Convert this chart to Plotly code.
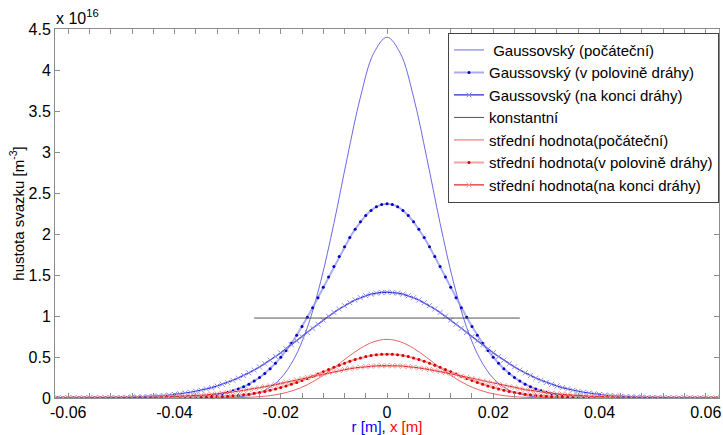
import plotly.graph_objects as go

# sample positions [m]
r_fine = [-0.062, -0.061, -0.060, -0.059, -0.058, -0.057, -0.056, -0.055, -0.054, -0.053,
          -0.052, -0.051, -0.050, -0.049, -0.048, -0.047, -0.046, -0.045, -0.044, -0.043,
          -0.042, -0.041, -0.040, -0.039, -0.038, -0.037, -0.036, -0.035, -0.034, -0.033,
          -0.032, -0.031, -0.030, -0.029, -0.028, -0.027, -0.026, -0.025, -0.024, -0.023,
          -0.022, -0.021, -0.020, -0.019, -0.018, -0.017, -0.016, -0.015, -0.014, -0.013,
          -0.012, -0.011, -0.010, -0.009, -0.008, -0.007, -0.006, -0.005, -0.004, -0.003,
          -0.002, -0.001, 0.000,
          0.001, 0.002, 0.003, 0.004, 0.005, 0.006, 0.007, 0.008, 0.009, 0.010,
          0.011, 0.012, 0.013, 0.014, 0.015, 0.016, 0.017, 0.018, 0.019, 0.020,
          0.021, 0.022, 0.023, 0.024, 0.025, 0.026, 0.027, 0.028, 0.029, 0.030,
          0.031, 0.032, 0.033, 0.034, 0.035, 0.036, 0.037, 0.038, 0.039, 0.040,
          0.041, 0.042, 0.043, 0.044, 0.045, 0.046, 0.047, 0.048, 0.049, 0.050,
          0.051, 0.052, 0.053, 0.054, 0.055, 0.056, 0.057, 0.058, 0.059, 0.060,
          0.061, 0.062]

r_coarse = [-0.0625, -0.06, -0.0575, -0.055, -0.0525, -0.05, -0.0475, -0.045, -0.0425, -0.04,
            -0.0375, -0.035, -0.0325, -0.03, -0.0275, -0.025, -0.0225, -0.02, -0.0175, -0.015,
            -0.0125, -0.01, -0.0075, -0.005, -0.0025, 0.0,
            0.0025, 0.005, 0.0075, 0.01, 0.0125, 0.015, 0.0175, 0.02, 0.0225, 0.025,
            0.0275, 0.03, 0.0325, 0.035, 0.0375, 0.04, 0.0425, 0.045, 0.0475, 0.05,
            0.0525, 0.055, 0.0575, 0.06, 0.0625]

# densities in units of 1e16 m^-3
gauss_start = [0, 0, 0, 0, 0, 0, 0, 0, 0, 0, 0,
               0.001, 0.002, 0.006, 0.018, 0.047, 0.112, 0.241, 0.477, 0.859, 1.416, 2.129, 2.925, 3.670, 4.205,
               4.400,
               4.205, 3.670, 2.925, 2.129, 1.416, 0.859, 0.477, 0.241, 0.112, 0.047, 0.018, 0.006, 0.002, 0.001,
               0, 0, 0, 0, 0, 0, 0, 0, 0, 0, 0]

gauss_mid = [0, 0, 0, 0, 0, 0, 0, 0, 0, 0, 0, 0, 0, 0, 0, 0,
             0.001, 0.001, 0.001, 0.002, 0.002, 0.003, 0.005, 0.006, 0.008, 0.011,
             0.015, 0.020, 0.026, 0.034, 0.043, 0.055, 0.070, 0.089, 0.111, 0.137,
             0.169, 0.206, 0.249, 0.300, 0.357, 0.423, 0.496, 0.578, 0.668, 0.766,
             0.871, 0.984, 1.102, 1.224, 1.350, 1.477, 1.603, 1.727, 1.845, 1.957,
             2.059, 2.149, 2.226, 2.288, 2.333, 2.361,
             2.370,
             2.361, 2.333, 2.288, 2.226, 2.149, 2.059,
             1.957, 1.845, 1.727, 1.603, 1.477, 1.350, 1.224, 1.102, 0.984, 0.871,
             0.766, 0.668, 0.578, 0.496, 0.423, 0.357, 0.300, 0.249, 0.206, 0.169,
             0.137, 0.111, 0.089, 0.070, 0.055, 0.043, 0.034, 0.026, 0.020, 0.015,
             0.011, 0.008, 0.006, 0.005, 0.003, 0.002, 0.002, 0.001, 0.001, 0.001,
             0, 0, 0, 0, 0, 0, 0, 0, 0, 0, 0, 0, 0, 0, 0, 0]

gauss_end = [0.000, 0.000, 0.001, 0.001, 0.001, 0.001, 0.002, 0.002, 0.003, 0.003,
             0.004, 0.005, 0.006, 0.008, 0.010, 0.012, 0.014, 0.017, 0.021, 0.025,
             0.030, 0.036, 0.043, 0.051, 0.060, 0.070, 0.082, 0.095, 0.110, 0.127,
             0.146, 0.167, 0.190, 0.216, 0.243, 0.274, 0.306, 0.341, 0.379, 0.419,
             0.461, 0.505, 0.551, 0.599, 0.648, 0.698, 0.748, 0.799, 0.850, 0.900,
             0.950, 0.997, 1.043, 1.086, 1.126, 1.162, 1.195, 1.223, 1.247, 1.266,
             1.279, 1.287,
             1.290,
             1.287, 1.279,
             1.266, 1.247, 1.223, 1.195, 1.162, 1.126, 1.086, 1.043, 0.997, 0.950,
             0.900, 0.850, 0.799, 0.748, 0.698, 0.648, 0.599, 0.551, 0.505, 0.461,
             0.419, 0.379, 0.341, 0.306, 0.274, 0.243, 0.216, 0.190, 0.167, 0.146,
             0.127, 0.110, 0.095, 0.082, 0.070, 0.060, 0.051, 0.043, 0.036, 0.030,
             0.025, 0.021, 0.017, 0.014, 0.012, 0.010, 0.008, 0.006, 0.005, 0.004,
             0.003, 0.003, 0.002, 0.002, 0.001, 0.001, 0.001, 0.001, 0.000, 0.000]

const_r = [-0.025, 0.025]
const_val = [0.975, 0.975]

mean_start = [0, 0, 0, 0, 0, 0, 0, 0, 0, 0, 0, 0,
              0.001, 0.002, 0.005, 0.012, 0.025, 0.051, 0.095, 0.162, 0.255, 0.369, 0.493, 0.606, 0.686,
              0.715,
              0.686, 0.606, 0.493, 0.369, 0.255, 0.162, 0.095, 0.051, 0.025, 0.012, 0.005, 0.002, 0.001,
              0, 0, 0, 0, 0, 0, 0, 0, 0, 0, 0, 0]

mean_mid = [0, 0, 0, 0, 0, 0, 0, 0, 0, 0, 0, 0, 0, 0, 0, 0, 0, 0,
            0.001, 0.001, 0.001, 0.001, 0.002, 0.002, 0.003, 0.004, 0.005, 0.007,
            0.008, 0.011, 0.014, 0.017, 0.021, 0.026, 0.032, 0.039, 0.047, 0.057,
            0.068, 0.080, 0.094, 0.110, 0.127, 0.146, 0.167, 0.190, 0.213, 0.239,
            0.265, 0.292, 0.319, 0.347, 0.374, 0.400, 0.425, 0.449, 0.470, 0.489,
            0.505, 0.518, 0.527, 0.533,
            0.535,
            0.533, 0.527, 0.518, 0.505,
            0.489, 0.470, 0.449, 0.425, 0.400, 0.374, 0.347, 0.319, 0.292, 0.265,
            0.239, 0.213, 0.190, 0.167, 0.146, 0.127, 0.110, 0.094, 0.080, 0.068,
            0.057, 0.047, 0.039, 0.032, 0.026, 0.021, 0.017, 0.014, 0.011, 0.008,
            0.007, 0.005, 0.004, 0.003, 0.002, 0.002, 0.001, 0.001, 0.001, 0.001,
            0, 0, 0, 0, 0, 0, 0, 0, 0, 0, 0, 0, 0, 0, 0, 0, 0, 0]

mean_end = [0, 0, 0, 0, 0.001, 0.001, 0.001, 0.001, 0.001, 0.001,
            0.002, 0.002, 0.003, 0.003, 0.004, 0.005, 0.006, 0.007, 0.008, 0.010,
            0.012, 0.014, 0.016, 0.019, 0.022, 0.026, 0.030, 0.034, 0.039, 0.045,
            0.051, 0.058, 0.065, 0.073, 0.082, 0.092, 0.102, 0.113, 0.125, 0.137,
            0.150, 0.163, 0.177, 0.192, 0.206, 0.221, 0.237, 0.252, 0.267, 0.282,
            0.296, 0.310, 0.323, 0.336, 0.348, 0.358, 0.368, 0.376, 0.383, 0.388,
            0.392, 0.394,
            0.395,
            0.394, 0.392,
            0.388, 0.383, 0.376, 0.368, 0.358, 0.348, 0.336, 0.323, 0.310, 0.296,
            0.282, 0.267, 0.252, 0.237, 0.221, 0.206, 0.192, 0.177, 0.163, 0.150,
            0.137, 0.125, 0.113, 0.102, 0.092, 0.082, 0.073, 0.065, 0.058, 0.051,
            0.045, 0.039, 0.034, 0.030, 0.026, 0.022, 0.019, 0.016, 0.014, 0.012,
            0.010, 0.008, 0.007, 0.006, 0.005, 0.004, 0.003, 0.003, 0.002, 0.002,
            0.001, 0.001, 0.001, 0.001, 0.001, 0.001, 0, 0, 0, 0]

x_tick_vals = [-0.06, -0.04, -0.02, 0, 0.02, 0.04, 0.06]
x_tick_text = ["-0.06", "-0.04", "-0.02", "0", "0.02", "0.04", "0.06"]

labels = ["\u00a0Gaussovský (počáteční)", "Gaussovský (v polovině dráhy)",
          "Gaussovský (na konci dráhy)", "konstantní",
          "střední hodnota(počáteční)", "střední hodnota(v polovině dráhy)",
          "střední hodnota(na konci dráhy)"]

for arr in (gauss_mid, gauss_end, mean_mid, mean_end):
    assert len(arr) == len(r_fine), len(arr)
for arr in (gauss_start, mean_start):
    assert len(arr) == len(r_coarse), len(arr)

FONT = '"Liberation Sans", Arial, sans-serif'
fig = go.Figure()

fig.add_trace(go.Scatter(x=r_coarse, y=gauss_start, name=labels[0], mode="lines",
                         line=dict(color="#6a6ae6", width=1, shape="spline")))
fig.add_trace(go.Scatter(x=r_fine, y=gauss_mid, name=labels[1], mode="lines+markers",
                         line=dict(color="rgba(150,150,240,0.8)", width=2),
                         marker=dict(symbol="circle", size=3, color="#0000c8")))
fig.add_trace(go.Scatter(x=r_fine, y=gauss_end, name=labels[2], mode="lines+markers",
                         line=dict(color="#2828d8", width=1.2),
                         marker=dict(symbol="x-thin", size=5,
                                     line=dict(width=1, color="#8c8ce8"))))
fig.add_trace(go.Scatter(x=const_r, y=const_val, name=labels[3], mode="lines",
                         line=dict(color="#555555", width=1)))
fig.add_trace(go.Scatter(x=r_coarse, y=mean_start, name=labels[4], mode="lines",
                         line=dict(color="#e86464", width=1, shape="spline")))
fig.add_trace(go.Scatter(x=r_fine, y=mean_mid, name=labels[5], mode="lines+markers",
                         line=dict(color="rgba(240,140,140,0.8)", width=2),
                         marker=dict(symbol="circle", size=3, color="#d80000")))
fig.add_trace(go.Scatter(x=r_fine, y=mean_end, name=labels[6], mode="lines+markers",
                         line=dict(color="#e02828", width=1.2),
                         marker=dict(symbol="x-thin", size=5,
                                     line=dict(width=1, color="#f09a9a"))))

axis_common = dict(showline=True, linecolor="#8c8c8c", linewidth=1, mirror="ticks",
                   ticks="inside", ticklen=5, tickcolor="#8c8c8c", showgrid=False,
                   zeroline=False, automargin=False,
                   tickfont=dict(size=16, color="black", family=FONT))

fig.update_xaxes(range=[-0.0625, 0.0625], tickmode="array", tickvals=x_tick_vals,
                 ticktext=x_tick_text,
                 minor=dict(dtick=0.004, tick0=0, ticks="inside", ticklen=5,
                            tickcolor="#8c8c8c", showgrid=False),
                 title=dict(text="<span style='color:#0000ff'>r [m]</span>, "
                                 "<span style='color:#ff0000'>x [m]</span>",
                            font=dict(size=15, family=FONT), standoff=1),
                 **axis_common)
fig.update_yaxes(range=[0, 4.5], dtick=0.5, tick0=0,
                 title=dict(text="hustota svazku [m<sup>-3</sup>]",
                            font=dict(size=15, family=FONT), standoff=0),
                 **axis_common)

fig.add_annotation(text="x 10<sup>16</sup>", xref="paper", yref="paper", x=0, y=1,
                   xanchor="left", yanchor="bottom", showarrow=False, xshift=-1,
                   font=dict(size=16, family=FONT, color="black"))

fig.update_layout(width=723, height=435, margin=dict(l=55, r=4, t=29, b=37),
                  paper_bgcolor="white", plot_bgcolor="white",
                  font=dict(family=FONT, size=15, color="black"),
                  showlegend=True,
                  legend=dict(x=1, xanchor="right", y=0.99, yanchor="top",
                              bgcolor="white", bordercolor="#444444", borderwidth=1,
                              font=dict(size=15, family=FONT), itemwidth=30,
                              tracegroupgap=0))

fig.write_html("out.html", config={"displayModeBar": False})

# remove the browser's default page margin so the figure sits at the window origin
with open("out.html", encoding="utf-8") as fh:
    page = fh.read()
page = page.replace("<head>", "<head><style>html,body{margin:0;padding:0;overflow:hidden;}</style>", 1)
with open("out.html", "w", encoding="utf-8") as fh:
    fh.write(page)
